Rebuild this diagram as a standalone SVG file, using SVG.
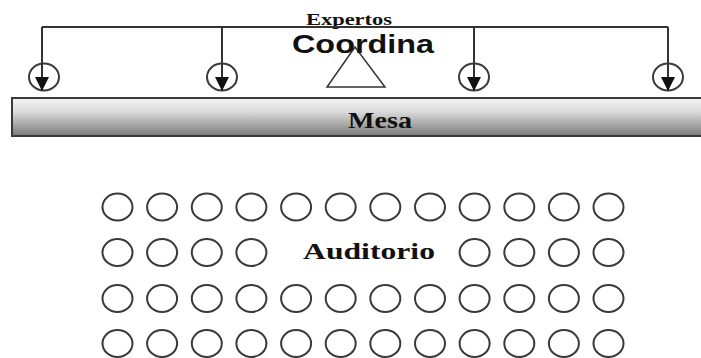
<svg xmlns="http://www.w3.org/2000/svg" width="701" height="358" viewBox="0 0 701 358">
<style>
.seat{fill:none;stroke:#3a3a3a;stroke-width:2}
.conn{fill:none;stroke:#333;stroke-width:2}
.serif{font-family:"Liberation Serif","Times New Roman",serif;font-weight:bold;fill:#111}
.sans{font-family:"Liberation Sans",Arial,sans-serif;font-weight:bold;fill:#111}
</style>
<defs>
<linearGradient id="mesaGrad" x1="0" y1="0" x2="0" y2="1">
<stop offset="0" stop-color="#f4f4f4"/>
<stop offset="0.35" stop-color="#dcdcdc"/>
<stop offset="1" stop-color="#7a7a7a"/>
</linearGradient>
<marker id="arr" viewBox="0 0 10 10" refX="10" refY="5" markerWidth="7" markerHeight="7" markerUnits="userSpaceOnUse" orient="auto">
<path d="M0,0 L10,5 L0,10 z" fill="#111"/>
</marker>
<marker id="arrh" viewBox="0 0 10 10" refX="10" refY="5" markerWidth="14" markerHeight="14" markerUnits="userSpaceOnUse" orient="auto">
<path d="M0,0 L10,5 L0,10 z" fill="#111"/>
</marker>
</defs>
<rect width="701" height="358" fill="#ffffff"/>

<g id="experts">
<ellipse class="seat" cx="44" cy="77" rx="15" ry="13.5"/>
<ellipse class="seat" cx="222" cy="77" rx="15" ry="13.5"/>
<ellipse class="seat" cx="474" cy="77" rx="15" ry="13.5"/>
<ellipse class="seat" cx="668" cy="77" rx="15" ry="13.5"/>
<text class="serif" x="306" y="25" font-size="16" font-weight="normal" textLength="86" lengthAdjust="spacingAndGlyphs">Expertos</text>
</g>

<g id="connectors">
<polyline class="conn" points="42,27 668,27"/>
<line class="conn" x1="42" y1="27" x2="42" y2="91" marker-end="url(#arrh)"/>
<line class="conn" x1="222" y1="27" x2="222" y2="91" marker-end="url(#arrh)"/>
<line class="conn" x1="474" y1="27" x2="474" y2="91" marker-end="url(#arrh)"/>
<line class="conn" x1="668" y1="27" x2="668" y2="91" marker-end="url(#arrh)"/>
</g>

<g id="coordina">
<polygon points="355,47 327,87 385,87" fill="#ffffff" stroke="#333" stroke-width="1.5"/>
<text class="sans" x="292" y="53" font-size="25" textLength="142" lengthAdjust="spacingAndGlyphs">Coordina</text>
</g>

<g id="mesa">
<rect x="12" y="98" width="700" height="38" fill="url(#mesaGrad)" stroke="#3a3a3a" stroke-width="2"/>
<text class="serif" x="348" y="128" font-size="23" textLength="64" lengthAdjust="spacingAndGlyphs">Mesa</text>
</g>

<g id="auditorio">
<g id="row1">
<ellipse class="seat" cx="117.5" cy="207" rx="15" ry="13.5"/>
<ellipse class="seat" cx="162.1" cy="207" rx="15" ry="13.5"/>
<ellipse class="seat" cx="206.8" cy="207" rx="15" ry="13.5"/>
<ellipse class="seat" cx="251.4" cy="207" rx="15" ry="13.5"/>
<ellipse class="seat" cx="296.1" cy="207" rx="15" ry="13.5"/>
<ellipse class="seat" cx="340.7" cy="207" rx="15" ry="13.5"/>
<ellipse class="seat" cx="385.3" cy="207" rx="15" ry="13.5"/>
<ellipse class="seat" cx="430" cy="207" rx="15" ry="13.5"/>
<ellipse class="seat" cx="474.6" cy="207" rx="15" ry="13.5"/>
<ellipse class="seat" cx="519.3" cy="207" rx="15" ry="13.5"/>
<ellipse class="seat" cx="563.9" cy="207" rx="15" ry="13.5"/>
<ellipse class="seat" cx="608.5" cy="207" rx="15" ry="13.5"/>
</g>
<g id="row2">
<ellipse class="seat" cx="117.5" cy="252.5" rx="15" ry="13.5"/>
<ellipse class="seat" cx="162.1" cy="252.5" rx="15" ry="13.5"/>
<ellipse class="seat" cx="206.8" cy="252.5" rx="15" ry="13.5"/>
<ellipse class="seat" cx="251.4" cy="252.5" rx="15" ry="13.5"/>
<ellipse class="seat" cx="474.6" cy="252.5" rx="15" ry="13.5"/>
<ellipse class="seat" cx="519.3" cy="252.5" rx="15" ry="13.5"/>
<ellipse class="seat" cx="563.9" cy="252.5" rx="15" ry="13.5"/>
<ellipse class="seat" cx="608.5" cy="252.5" rx="15" ry="13.5"/>
<text class="serif" x="303" y="259" font-size="23" textLength="132" lengthAdjust="spacingAndGlyphs">Auditorio</text>
</g>
<g id="row3">
<ellipse class="seat" cx="117.5" cy="298.5" rx="15" ry="13.5"/>
<ellipse class="seat" cx="162.1" cy="298.5" rx="15" ry="13.5"/>
<ellipse class="seat" cx="206.8" cy="298.5" rx="15" ry="13.5"/>
<ellipse class="seat" cx="251.4" cy="298.5" rx="15" ry="13.5"/>
<ellipse class="seat" cx="296.1" cy="298.5" rx="15" ry="13.5"/>
<ellipse class="seat" cx="340.7" cy="298.5" rx="15" ry="13.5"/>
<ellipse class="seat" cx="385.3" cy="298.5" rx="15" ry="13.5"/>
<ellipse class="seat" cx="430" cy="298.5" rx="15" ry="13.5"/>
<ellipse class="seat" cx="474.6" cy="298.5" rx="15" ry="13.5"/>
<ellipse class="seat" cx="519.3" cy="298.5" rx="15" ry="13.5"/>
<ellipse class="seat" cx="563.9" cy="298.5" rx="15" ry="13.5"/>
<ellipse class="seat" cx="608.5" cy="298.5" rx="15" ry="13.5"/>
</g>
<g id="row4">
<ellipse class="seat" cx="117.5" cy="343.5" rx="15" ry="13.5"/>
<ellipse class="seat" cx="162.1" cy="343.5" rx="15" ry="13.5"/>
<ellipse class="seat" cx="206.8" cy="343.5" rx="15" ry="13.5"/>
<ellipse class="seat" cx="251.4" cy="343.5" rx="15" ry="13.5"/>
<ellipse class="seat" cx="296.1" cy="343.5" rx="15" ry="13.5"/>
<ellipse class="seat" cx="340.7" cy="343.5" rx="15" ry="13.5"/>
<ellipse class="seat" cx="385.3" cy="343.5" rx="15" ry="13.5"/>
<ellipse class="seat" cx="430" cy="343.5" rx="15" ry="13.5"/>
<ellipse class="seat" cx="474.6" cy="343.5" rx="15" ry="13.5"/>
<ellipse class="seat" cx="519.3" cy="343.5" rx="15" ry="13.5"/>
<ellipse class="seat" cx="563.9" cy="343.5" rx="15" ry="13.5"/>
<ellipse class="seat" cx="608.5" cy="343.5" rx="15" ry="13.5"/>
</g>
</g>
</svg>
